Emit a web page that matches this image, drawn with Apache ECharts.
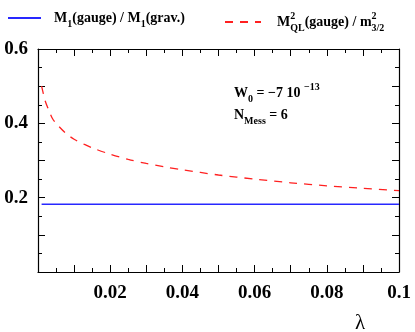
<!DOCTYPE html>
<html>
<head>
<meta charset="utf-8">
<script src="https://cdn.jsdelivr.net/npm/echarts@6/dist/echarts.min.js"></script>
<style>
  html, body { margin: 0; padding: 0; background: #fff; }
  #chart { width: 415px; height: 332px; }
</style>
</head>
<body>
<div id="chart"></div>
<script>
// lambda values and the two ratios
const lambdaValues = [0.001, 0.002, 0.003, 0.004, 0.005, 0.0075, 0.01, 0.0125, 0.015, 0.02,
  0.025, 0.03, 0.035, 0.04, 0.05, 0.06, 0.07, 0.08, 0.09, 0.1]
const qlRatio = [0.50, 0.46, 0.435, 0.413, 0.400, 0.375, 0.357, 0.345, 0.334, 0.317,
  0.303, 0.292, 0.283, 0.275, 0.261, 0.250, 0.240, 0.232, 0.225, 0.219]
const m1Lambda = [0.001, 0.1]
const m1Ratio = [0.182, 0.182]

// tick labels that are printed
const xLabels = [0.02, 0.04, 0.06, 0.08, 0.1]
const yLabels = [0.2, 0.4, 0.6]

const serif = '"Liberation Serif", "DejaVu Serif", serif'

function pickLabel(list) {
  return (v) => {
    const hit = list.find((t) => Math.abs(t - v) < 1e-9)
    return hit === undefined ? '' : String(hit)
  }
}

const legendRich = {
  b: { fontFamily: serif, fontWeight: 'bold', fontSize: 14, color: '#000' },
  first: { fontFamily: serif, fontWeight: 'bold', fontSize: 14, color: '#000', padding: [0, 0, 0, 8] },
  first2: { fontFamily: serif, fontWeight: 'bold', fontSize: 14, color: '#000', padding: [0, 0, 0, 11] },
  sub: { fontFamily: serif, fontWeight: 'bold', fontSize: 10, color: '#000', padding: [12, 0, 0, 0] },
  sup0: { fontFamily: serif, fontWeight: 'bold', fontSize: 10, color: '#000', padding: [0, 0, 12, 0], width: 0 },
}

const names = ['M1 gauge/grav', 'MQL2 gauge/m32']

const tickStyle = { show: true, inside: true, length: 7, lineStyle: { color: '#000', width: 1 } }
const minorStyle = { show: true, splitNumber: 2, length: 4, lineStyle: { color: '#000', width: 1 } }
const axisLine = { show: true, onZero: false, lineStyle: { color: '#000', width: 1.2 } }

const chart = echarts.init(document.getElementById('chart'))
chart.setOption({
  animation: false,
  grid: { left: 38, right: 16, top: 49, bottom: 60 },
  legend: [
    {
      data: [names[0]], left: 2, top: 6, itemWidth: 33, itemHeight: 14,
      itemStyle: { opacity: 0 },
      formatter: () => '{first|M}{sub|1}{b|(gauge) / M}{sub|1}{b|(grav.)}',
      textStyle: { rich: legendRich },
    },
    {
      data: [names[1]], left: 219, top: 6, itemWidth: 36, itemHeight: 14,
      itemStyle: { opacity: 0 },
      formatter: () => '{first2|M}{sup0|2}{sub|QL}{b|(gauge) / m}{sup0|2}{sub|3/2}',
      textStyle: { rich: legendRich },
    },
  ],
  xAxis: [
    {
      type: 'value', min: 0, max: 0.1, interval: 0.01, position: 'bottom',
      axisLine, axisTick: tickStyle, minorTick: minorStyle, splitLine: { show: false },
      axisLabel: {
        formatter: pickLabel(xLabels), margin: 12, color: '#000',
        fontFamily: serif, fontWeight: 'bold', fontSize: 19,
      },
    },
    {
      type: 'value', min: 0, max: 0.1, interval: 0.01, position: 'top',
      axisLine, axisTick: tickStyle, minorTick: minorStyle, splitLine: { show: false },
      axisLabel: { show: false },
    },
  ],
  yAxis: [
    {
      type: 'value', min: 0, max: 0.6, interval: 0.1, position: 'left',
      axisLine, axisTick: tickStyle, minorTick: minorStyle, splitLine: { show: false },
      axisLabel: {
        formatter: pickLabel(yLabels), margin: 10, color: '#000',
        fontFamily: serif, fontWeight: 'bold', fontSize: 19,
      },
    },
    {
      type: 'value', min: 0, max: 0.6, interval: 0.1, position: 'right',
      axisLine, axisTick: tickStyle, minorTick: minorStyle, splitLine: { show: false },
      axisLabel: { show: false },
    },
  ],
  series: [
    {
      name: names[0], type: 'line', symbol: 'none',
      data: m1Lambda.map((x, i) => [x, m1Ratio[i]]),
      lineStyle: { color: '#2828ff', width: 1.5 },
      itemStyle: { color: '#2828ff' },
    },
    {
      name: names[1], type: 'line', symbol: 'none', smooth: 0.3,
      data: lambdaValues.map((x, i) => [x, qlRatio[i]]),
      lineStyle: { color: '#ff2020', width: 1.3, type: [8, 7] },
      itemStyle: { color: '#ff2020' },
    },
  ],
  graphic: [
    {
      type: 'text', left: 234, top: 82,
      style: {
        text: '{b|W}{sub|0}{b| = \u22127 10 }{sup|\u221213}',
        rich: {
          b: { fontFamily: serif, fontWeight: 'bold', fontSize: 14, fill: '#000' },
          sub: { fontFamily: serif, fontWeight: 'bold', fontSize: 10, fill: '#000', padding: [12, 0, 0, 0] },
          sup: { fontFamily: serif, fontWeight: 'bold', fontSize: 10, fill: '#000', padding: [0, 0, 12, 0] },
        },
      },
    },
    {
      type: 'text', left: 234, top: 108,
      style: {
        text: '{b|N}{sub|Mess}{b| = 6}',
        rich: {
          b: { fontFamily: serif, fontWeight: 'bold', fontSize: 14, fill: '#000' },
          sub: { fontFamily: serif, fontWeight: 'bold', fontSize: 10, fill: '#000', padding: [12, 0, 0, 0] },
        },
      },
    },
    {
      type: 'text', left: 355, top: 313,
      style: { text: '\u03bb', fontFamily: serif, fontSize: 21, fill: '#000' },
    },
  ],
})
</script>
</body>
</html>
